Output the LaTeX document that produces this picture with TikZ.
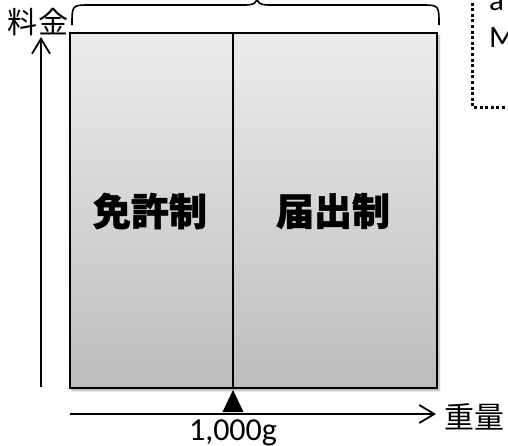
\documentclass[tikz,border=0pt]{standalone}
\usepackage{fontspec}
\setmainfont{Carlito}
\newfontfamily\cjk{Noto Sans CJK JP}
\newfontfamily\cjkh{Noto Sans CJK JP}[BoldFeatures={FakeBold=1.2}]
\usetikzlibrary{arrows.meta,shadows.blur}
\begin{document}
\begin{tikzpicture}[x=1pt,y=-1pt,
  axis/.style={line width=1.8pt,-{Straight Barb[length=15pt,width=18pt]}},
  panel/.style={draw=black,line width=2.6pt,top color=gray!15,bottom color=gray!52,
    blur shadow={shadow xshift=2pt,shadow yshift=-2.5pt,shadow blur steps=6,shadow opacity=35}},
  divider/.style={line width=1.6pt},
  biglabel/.style={font=\cjkh\bfseries\fontsize{38}{40}\selectfont,inner sep=0pt},
  axlabel/.style={font=\cjk\fontsize{30}{32}\selectfont,inner sep=0pt},
  note/.style={font=\fontsize{31}{36}\selectfont,inner sep=0pt,anchor=base west},
  dotbox/.style={line width=3pt,dash pattern=on 3pt off 2.6pt},
  bracestyle/.style={line width=1.6pt}]
\useasboundingbox (0,0) rectangle (508,445);
\clip (0,0) rectangle (508,445);
% coordinates
\coordinate (tl) at (70,33);
\coordinate (br) at (437,388);
\coordinate (divT) at (233,33);
\coordinate (divB) at (233,388);
\coordinate (yo) at (41,387);
\coordinate (yt) at (41,37);
\coordinate (xo) at (70,414);
\coordinate (xt) at (436,414);
% panel
\path[panel] (tl) rectangle (br);
\draw[divider] (divT) -- (divB);
% labels in panel
\node[biglabel] (lic) at (150,211) {免許制};
\node[biglabel] (rep) at (333,211) {届出制};
% brace
\draw[bracestyle] (72,25) .. controls (72,5) and (72,5) .. (90,5) -- (245,5)
  .. controls (254,5) and (257,3) .. (257,-3)
  .. controls (257,3) and (260,5) .. (269,5) -- (421,5)
  .. controls (439,5) and (439,5) .. (439,25);
% axes
\draw[axis] (yo) -- (yt);
\draw[axis] (xo) -- (xt);
\node[axlabel] (ylab) at (38,22) {料金};
\node[axlabel] (xlab) at (474,417) {重量};
% marker
\fill (233,390) -- (243.5,412) -- (222.5,412) -- cycle;
\node[font=\fontsize{32}{34}\selectfont,inner sep=0pt,anchor=base] (kg) at (233,440) {1,000g};
% dotted box
\draw[dotbox] (472,-3) -- (472,107) -- (512,107);
\node[note] (na) at (489,10) {a};
\node[note] (nm) at (489,47) {M};
\end{tikzpicture}
\end{document}
